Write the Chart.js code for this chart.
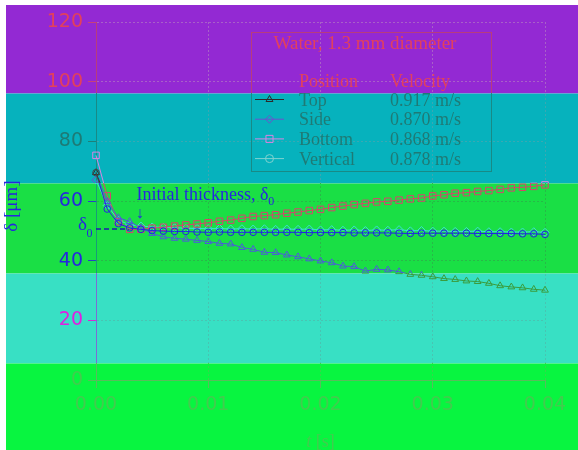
<!DOCTYPE html>
<html>
<head>
<meta charset="utf-8">
<script src="https://cdn.jsdelivr.net/npm/chart.js@4.4.1/dist/chart.umd.min.js"></script>
<style>
  html, body { margin: 0; padding: 0; background: #ffffff; overflow: hidden; }
  #wrap { width: 578px; height: 450px; position: relative; }
</style>
</head>
<body>
<div id="wrap"><canvas id="c" width="578" height="450"></canvas></div>
<script>
// ---- data -------------------------------------------------------------
const times = [0.000, 0.001, 0.002, 0.003, 0.004, 0.005, 0.006, 0.007, 0.008, 0.009,
               0.010, 0.011, 0.012, 0.013, 0.014, 0.015, 0.016, 0.017, 0.018, 0.019,
               0.020, 0.021, 0.022, 0.023, 0.024, 0.025, 0.026, 0.027, 0.028, 0.029,
               0.030, 0.031, 0.032, 0.033, 0.034, 0.035, 0.036, 0.037, 0.038, 0.039, 0.040];

const topThickness = [69.5, 59.8, 54.4, 53.1, 51.0, 49.1, 48.0, 47.5, 47.2, 46.8,
                      46.4, 45.8, 45.6, 44.4, 43.8, 42.8, 42.7, 41.9, 41.3, 40.6,
                      39.9, 39.3, 38.2, 38.0, 36.5, 37.1, 36.9, 36.3, 35.4, 35.1,
                      34.6, 34.0, 33.7, 33.2, 33.0, 32.4, 31.6, 31.2, 30.9, 30.4, 30.1];

const sideThickness = [67.0, 58.5, 53.6, 52.0, 51.6, 51.3, 51.2, 51.0, 50.9, 50.8,
                       50.7, 50.8, 50.6, 50.7, 50.6, 50.7, 50.5, 50.6, 50.5, 50.6,
                       50.3, 50.4, 50.2, 50.3, 50.1, 50.3, 50.2, 50.4, 50.0, 50.1,
                       49.9, 49.9, 49.8, 49.8, 49.9, 49.7, 49.7, 49.6, 49.6, 49.7, 49.5];

const bottomThickness = [75.3, 61.7, 53.0, 50.5, 50.5, 50.9, 51.2, 51.6, 52.0, 52.3,
                         52.7, 53.2, 53.6, 54.2, 54.8, 55.1, 55.4, 55.9, 56.3, 56.8,
                         57.2, 57.8, 58.3, 58.8, 59.2, 59.7, 59.9, 60.3, 60.7, 61.0,
                         61.7, 62.1, 62.6, 62.8, 63.2, 63.5, 63.9, 64.4, 64.6, 64.9, 65.4];

const verticalThickness = [69.5, 57.3, 52.4, 51.0, 50.5, 50.1, 49.9, 49.8, 49.8, 49.6,
                           49.5, 49.6, 49.5, 49.5, 49.5, 49.5, 49.5, 49.5, 49.5, 49.4,
                           49.4, 49.4, 49.4, 49.3, 49.3, 49.3, 49.3, 49.2, 49.1, 49.2,
                           49.2, 49.2, 49.2, 49.2, 49.1, 49.1, 49.1, 49.1, 49.0, 49.0, 48.8];

const initialThickness = 50.6;          // delta_0 [um]
const initialLineTimes = [0.000, 0.0035];

const positions  = ['Top', 'Side', 'Bottom', 'Vertical'];
const velocities = [0.917, 0.870, 0.868, 0.878];   // m/s
const legendTitle = 'Water, 1.3 mm diameter';

const xTicks = [0.00, 0.01, 0.02, 0.03, 0.04];
const yTicks = [0, 20, 40, 60, 80, 100, 120];

// ---- horizontal colour bands -----------------------------------------
const BAND_EDGES = [5, 93.5, 183.5, 273.5, 363.5, 450];
const BAND_BG    = ['#9329d3', '#06b2bd', '#1adf45', '#38e0c4', '#08f540'];

const TEXT   = ['#e2405c', '#1e7a75', '#2626e0', '#e020e0', '#42cc4e'];
const GRID   = ['#a860c8', '#3aa8b2', '#28b848', '#48c4b2', '#36d64a'];
const AXIS   = ['#b83c7c', '#188a86', '#189c78', '#7c6cd6', '#58bc5c'];
const TICKM  = ['#c8407a', '#1e8078', '#2a40c8', '#d828d8', '#58bc5c'];

const C_TOP      = ['#2e2a2a', '#2e2a2a', '#4a5cd8', '#3a9c3c', '#3a9c3c'];
const C_SIDE     = ['#6e50cc', '#6e50cc', '#3cdcd4', '#3cdcd4', '#3cdcd4'];
const C_BOTTOM   = ['#d884e2', '#d884e2', '#d8426c', '#d8426c', '#d8426c'];
const C_VERTICAL = ['#3c4848', '#3c4848', '#2222e4', '#2222e4', '#2222e4'];
const C_DELTA0   = ['#1c1cac', '#1c1cac', '#1c1cac', '#1c1cac', '#1c1cac'];

// legend sample colours
const LEGEND_COLORS = ['#2e2828', '#6e50cc', '#d884e2', '#80d2d0'];
const LEGEND_SHAPES = ['triangle', 'rectRot', 'rect', 'circle'];

const canvas = document.getElementById('c');
const ctx0 = canvas.getContext('2d');

function bandIndex(y) {
  for (let i = 0; i < 5; i++) if (y < BAND_EDGES[i + 1]) return i;
  return 4;
}
function banded(colors) {
  const g = ctx0.createLinearGradient(0, 0, 0, 450);
  for (let i = 0; i < 5; i++) {
    const a = (i === 0 ? 0 : BAND_EDGES[i]) / 450;
    const b = BAND_EDGES[i + 1] / 450;
    g.addColorStop(a, colors[i]);
    g.addColorStop(b, colors[i]);
  }
  return g;
}

const pts = (ys) => times.map((t, i) => ({ x: t, y: ys[i] }));

const SERIF = '"Liberation Serif", "Times New Roman", "DejaVu Serif", serif';
const SANS = '"DejaVu Sans", sans-serif';

// ---- plugins ----------------------------------------------------------
const bandBackground = {
  id: 'bandBackground',
  beforeDraw(chart) {
    const ctx = chart.ctx;
    ctx.save();
    ctx.fillStyle = '#ffffff';
    ctx.fillRect(0, 0, chart.width, chart.height);
    for (let i = 0; i < 5; i++) {
      ctx.fillStyle = BAND_BG[i];
      ctx.fillRect(6, BAND_EDGES[i], chart.width - 6, BAND_EDGES[i + 1] - BAND_EDGES[i]);
    }
    ctx.restore();
  }
};

const annotations = {
  id: 'annotations',
  afterDraw(chart) {
    const ctx = chart.ctx;
    const xs = chart.scales.x, ys = chart.scales.y;
    const area = chart.chartArea;
    const textGrad = banded(TEXT);
    ctx.save();

    // y-axis title
    ctx.save();
    ctx.translate(12, 206);
    ctx.rotate(-Math.PI / 2);
    ctx.fillStyle = '#2626e0';
    ctx.font = '19px ' + SERIF;
    ctx.textAlign = 'center';
    ctx.textBaseline = 'middle';
    ctx.fillText('δ [μm]', 0, 0);
    ctx.restore();

    // delta_0 label and initial-thickness note
    const y0 = ys.getPixelForValue(initialThickness);
    ctx.fillStyle = '#2626e0';
    ctx.textBaseline = 'alphabetic';
    ctx.textAlign = 'left';
    ctx.font = '19px ' + SERIF;
    ctx.fillText('δ', 78, y0 + 1);
    ctx.font = '12px ' + SERIF;
    ctx.fillText('0', 86.5, y0 + 8);

    const xn = xs.getPixelForValue(0.0036);
    ctx.font = '18px ' + SERIF;
    const s1 = 'Initial thickness, δ';
    ctx.fillText(s1, xn, y0 - 29);
    const w1 = ctx.measureText(s1).width;
    ctx.font = '12px ' + SERIF;
    ctx.fillText('0', xn + w1, y0 - 24);
    ctx.font = '16px ' + SERIF;
    ctx.textAlign = 'center';
    ctx.fillText('↓', xs.getPixelForValue(0.0039), y0 - 11);

    // x-axis title: italic t
    ctx.fillStyle = TEXT[4];
    ctx.textAlign = 'left';
    const cx = (area.left + area.right) / 2;
    ctx.font = 'italic 18px ' + SERIF;
    const wt = ctx.measureText('t').width;
    ctx.font = '18px ' + SERIF;
    const wr = ctx.measureText(' [s]').width;
    const sx = cx - (wt + wr) / 2;
    ctx.font = 'italic 18px ' + SERIF;
    ctx.fillText('t', sx, 447);
    ctx.font = '18px ' + SERIF;
    ctx.fillText(' [s]', sx + wt, 447);

    // legend table
    const L = { x0: 251.5, y0: 32.5, x1: 491.5, y1: 171.5 };
    ctx.strokeStyle = banded(AXIS);
    ctx.lineWidth = 1;
    ctx.strokeRect(L.x0, L.y0, L.x1 - L.x0, L.y1 - L.y0);

    ctx.fillStyle = textGrad;
    ctx.font = '19px ' + SERIF;
    ctx.textAlign = 'center';
    ctx.fillText(legendTitle, 365, 49);
    ctx.font = '18px ' + SERIF;
    ctx.textAlign = 'left';
    ctx.fillText('Position', 299, 87);
    ctx.fillText('Velocity', 390, 87);

    for (let i = 0; i < positions.length; i++) {
      const base = 105.5 + i * 19.7;
      const my = base - 6;
      ctx.fillStyle = textGrad;
      ctx.fillText(positions[i], 299, base);
      ctx.fillText(velocities[i].toFixed(3) + ' m/s', 390, base);
      ctx.strokeStyle = LEGEND_COLORS[i];
      ctx.lineWidth = 1;
      ctx.beginPath();
      ctx.moveTo(255, my);
      ctx.lineTo(284, my);
      ctx.stroke();
      ctx.fillStyle = 'rgba(0,0,0,0)';
      Chart.helpers.drawPoint(ctx, {
        pointStyle: LEGEND_SHAPES[i],
        radius: LEGEND_SHAPES[i] === 'rect' ? 5 : 4,
        borderWidth: 1,
        rotation: 0
      }, 269.5, my);
    }
    ctx.restore();
  }
};

// ---- chart ------------------------------------------------------------
function series(label, ys, colors, shape, radius, order) {
  const g = banded(colors);
  return {
    label,
    data: pts(ys),
    borderColor: g,
    backgroundColor: 'rgba(0,0,0,0)',
    pointBorderColor: g,
    pointBackgroundColor: 'rgba(0,0,0,0)',
    pointStyle: shape,
    pointRadius: radius,
    pointBorderWidth: 1,
    borderWidth: 1,
    tension: 0,
    clip: false,
    order
  };
}

const gridOpts = () => ({
  color: banded(GRID),
  tickBorderDash: [],
  tickColor: banded(TICKM),
  tickLength: 8,
  lineWidth: 1
});

new Chart(canvas, {
  type: 'line',
  data: {
    datasets: [
      series('Top', topThickness, C_TOP, 'triangle', 3.9, 2),
      series('Side', sideThickness, C_SIDE, 'rectRot', 4, 4),
      series('Bottom', bottomThickness, C_BOTTOM, 'rect', 4.6, 3),
      series('Vertical', verticalThickness, C_VERTICAL, 'circle', 3.3, 1),
      {
        label: 'delta0',
        data: initialLineTimes.map(t => ({ x: t, y: initialThickness })),
        borderColor: banded(C_DELTA0),
        borderWidth: 1.5,
        borderDash: [5, 3],
        pointRadius: 0,
        clip: false,
        order: 5
      }
    ]
  },
  options: {
    responsive: false,
    animation: false,
    events: [],
    layout: { padding: { top: 22, right: 33, left: 0, bottom: 0 } },
    plugins: { legend: { display: false }, tooltip: { enabled: false } },
    scales: {
      x: {
        type: 'linear',
        min: 0, max: 0.04,
        afterFit(s) { s.height = 70; },
        afterBuildTicks(s) { s.ticks = xTicks.map(v => ({ value: v })); },
        ticks: {
          callback: v => Number(v).toFixed(2),
          font: { family: SANS, size: 19 },
          color: TEXT[4],
          padding: 6,
          maxRotation: 0
        },
        grid: gridOpts(),
        border: { display: true, color: banded(AXIS), width: 1, dash: [2, 2] }
      },
      y: {
        min: 0, max: 120,
        afterFit(s) { s.width = 96; },
        afterBuildTicks(s) { s.ticks = yTicks.map(v => ({ value: v })); },
        ticks: {
          font: { family: SANS, size: 19 },
          padding: 5,
          color: (c) => {
            const p = c.scale ? c.scale.getPixelForValue(c.tick.value) : NaN;
            if (!isFinite(p)) return TEXT[2];
            return TEXT[bandIndex(p)];
          }
        },
        grid: gridOpts(),
        border: { display: true, color: banded(AXIS), width: 1, dash: [2, 2] }
      }
    }
  },
  plugins: [bandBackground, annotations]
});
</script>
</body>
</html>
